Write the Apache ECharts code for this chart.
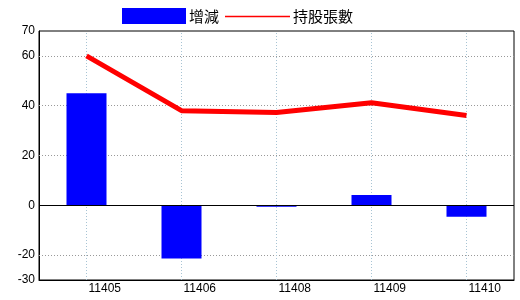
<!DOCTYPE html>
<html>
<head>
<meta charset="utf-8">
<script src="https://cdn.jsdelivr.net/npm/echarts@6/dist/echarts.min.js"></script>
<style>html,body{margin:0;padding:0;background:#fff;}#c{width:520px;height:300px;}</style>
</head>
<body>
<div id="c"></div>
<script>
const categories = ['11405', '11406', '11408', '11409', '11410'];
const changeValues = [45, -21.4, -0.6, 4.1, -4.6];
const holdingValues = [60, 38, 37.3, 41.2, 36.1];
const yTickLabels = [70, 60, 40, 20, 0, -20, -30];
const yGridValues = [60, 40, 20, -20];

const chart = echarts.init(document.getElementById('c'));
const font = '"Liberation Sans", Arial, sans-serif';
const cjk = '"Noto Sans CJK TC", "Noto Sans CJK SC", sans-serif';

chart.setOption({
  animation: false,
  backgroundColor: '#fff',
  grid: { left: 39, right: 6, top: 31, bottom: 20, show: true, borderColor: '#000', borderWidth: 1, backgroundColor: 'transparent' },
  legend: [
    { data: [{ name: '增減', icon: 'rect' }], left: 122, top: 8, padding: 0, itemWidth: 64, itemHeight: 16, itemGap: 0,
      textStyle: { color: '#000', fontSize: 15, fontFamily: cjk, padding: [0,0,0,-2] } },
    { data: [{ name: '持股張數', icon: 'rect',
        itemStyle: { color: '#f00', borderWidth: 0 }, lineStyle: { color: '#f00', width: 0 } }],
      left: 225, top: 9, padding: 0, itemWidth: 65, itemHeight: 1.5, itemGap: 0,
      textStyle: { color: '#000', fontSize: 15, fontFamily: cjk, padding: [0,0,0,-2] } }
  ],
  xAxis: {
    type: 'category', data: categories, boundaryGap: true,
    axisLine: { onZero: false, lineStyle: { color: '#000' } },
    axisTick: { show: false },
    splitLine: { show: false },
    axisLabel: { color: '#000', fontSize: 12, fontFamily: font, align: 'left', padding: [0,0,0,2], margin: 3 }
  },
  yAxis: {
    type: 'value', min: -30, max: 70, interval: 10,
    axisLine: { show: true, lineStyle: { color: '#000' } },
    axisTick: { show: false },
    splitLine: { show: false },
    axisLabel: { color: '#000', fontSize: 12, fontFamily: font, margin: 4,
      formatter: v => yTickLabels.indexOf(v) >= 0 ? String(v) : '' }
  },
  series: [
    { type: 'line', name: 'grid', data: [], silent: true,
      markLine: { z: 1, silent: true, symbol: 'none', label: { show: false },
        data: yGridValues.map(v => ({ yAxis: v, lineStyle: { color: '#999', type: [1, 2], width: 1 } }))
          .concat(categories.map(c => ({ xAxis: c, lineStyle: { color: '#a8c4d4', type: [1, 2], width: 1 } }))) } },
    { type: 'bar', name: '增減', data: changeValues, barWidth: 40, itemStyle: { color: '#0000ff' }, z: 2 },
    { type: 'line', name: '持股張數', data: holdingValues, symbol: 'none', z: 4,
      lineStyle: { color: '#f00', width: 5 }, itemStyle: { color: '#f00' } },
    { type: 'line', name: 'zero', data: [], silent: true,
      markLine: { z: 3, silent: true, symbol: 'none', label: { show: false },
        data: [{ yAxis: 0, lineStyle: { color: '#000', type: 'solid', width: 1 } }] } }
  ]
});
</script>
</body>
</html>
